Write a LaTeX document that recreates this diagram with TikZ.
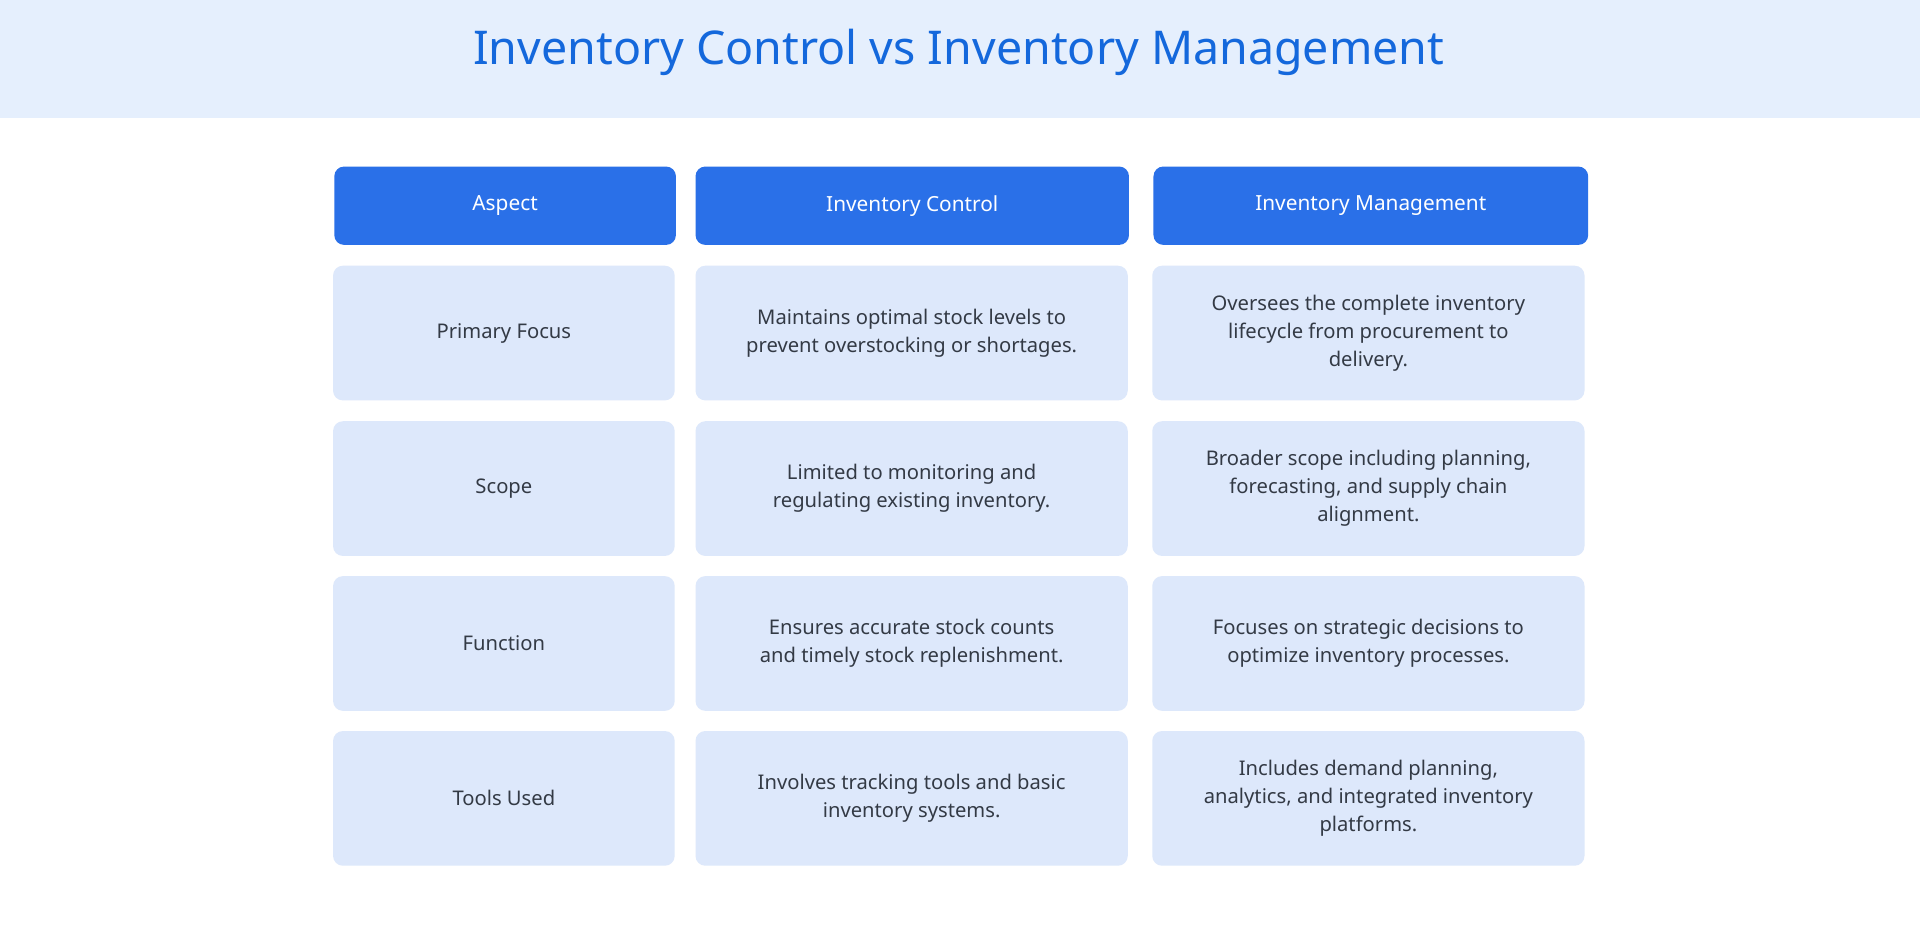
\documentclass[tikz,border=0pt]{standalone}
\usepackage{fontspec}
\setmainfont{Noto Sans}
\definecolor{band}{HTML}{E5EFFD}
\definecolor{titleblue}{HTML}{1468DC}
\definecolor{headblue}{HTML}{2A70E8}
\definecolor{cellbg}{HTML}{DDE8FB}
\definecolor{txt}{HTML}{333A45}
\begin{document}
\begin{tikzpicture}[x=1pt,y=-1pt,
  head/.style={fill=headblue,rounded corners=8pt,text=white,font=\fontsize{17}{20}\selectfont,align=center},
  cell/.style={fill=cellbg,rounded corners=8pt,text=txt,font=\fontsize{16.5}{23}\selectfont,align=center},
  ]
\useasboundingbox (0,0) rectangle (1568,755);
\fill[white] (0,0) rectangle (1568,755);
\fill[band] (0,0) rectangle (1568,96);
\node[text=titleblue,font=\fontsize{38}{44}\selectfont] (title) at (783,43) {Inventory Control vs Inventory Management};
\def\cola{273}\def\colaw{279}
\def\colb{568}\def\colbw{354}
\def\colc{942}\def\colcw{355}
\node[head,minimum width=279pt,minimum height=64pt] (h1) at (412.5,168) {Aspect};
\node[head,minimum width=354pt,minimum height=64pt] (h2) at (745,168) {Inventory Control};
\node[head,minimum width=355pt,minimum height=64pt] (h3) at (1119.5,168) {Inventory Management};
\foreach \y/\a/\b/\c [count=\i] in {
 272/{Primary Focus}/{Maintains optimal stock levels to\\prevent overstocking or shortages.}/{Oversees the complete inventory\\lifecycle from procurement to\\delivery.},
 399/{Scope}/{Limited to monitoring and\\regulating existing inventory.}/{Broader scope including planning,\\forecasting, and supply chain\\alignment.},
 525.5/{Function}/{Ensures accurate stock counts\\and timely stock replenishment.}/{Focuses on strategic decisions to\\optimize inventory processes.},
 652/{Tools Used}/{Involves tracking tools and basic\\inventory systems.}/{Includes demand planning,\\analytics, and integrated inventory\\platforms.}}{
 \node[cell,minimum width=279pt,minimum height=110pt] (r\i a) at (411.5,\y) {\a};
 \node[cell,minimum width=353pt,minimum height=110pt] (r\i b) at (744.5,\y) {\b};
 \node[cell,minimum width=353pt,minimum height=110pt] (r\i c) at (1117.5,\y) {\c};
}
\end{tikzpicture}
\end{document}
